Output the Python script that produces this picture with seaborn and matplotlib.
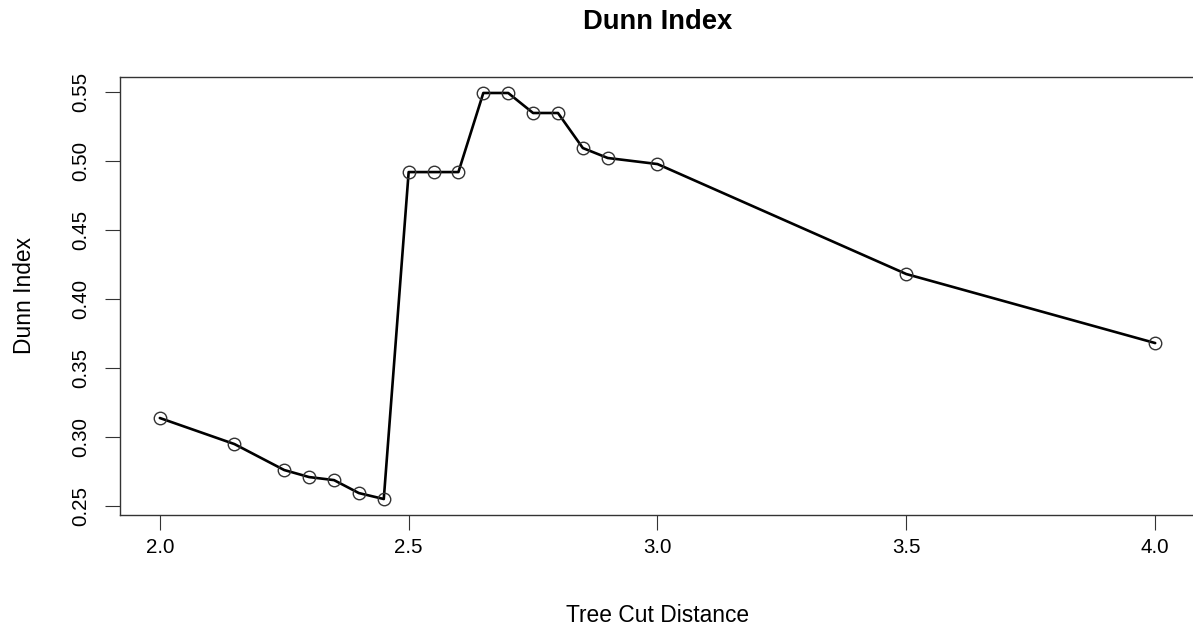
import matplotlib
matplotlib.use("Agg")
import matplotlib.pyplot as plt
import seaborn as sns
import pandas as pd

cut_distance = [2.0, 2.15, 2.25, 2.3, 2.35, 2.4, 2.45, 2.5, 2.55, 2.6, 2.65, 2.7,
                2.75, 2.8, 2.85, 2.9, 3.0, 3.5, 4.0]
dunn_index = [0.3138, 0.2949, 0.2761, 0.2710, 0.2688, 0.2594, 0.2551, 0.4920,
              0.4920, 0.4920, 0.5493, 0.5493, 0.5348, 0.5348, 0.5094, 0.5022,
              0.4978, 0.4181, 0.3681]
x_ticks = [2.0, 2.5, 3.0, 3.5, 4.0]
y_ticks = [0.25, 0.30, 0.35, 0.40, 0.45, 0.50, 0.55]

sns.set_theme(style="white")
plt.rcParams['font.family'] = ['Liberation Sans', 'DejaVu Sans']
plt.rcParams['text.color'] = 'black'
plt.rcParams['axes.labelcolor'] = 'black'

df = pd.DataFrame({"Tree Cut Distance": cut_distance, "Dunn Index": dunn_index})

W, H = 1193, 629
fig = plt.figure(figsize=(W / 100, H / 100), dpi=100)
left, right, top, bottom = 120, 1195, 76.7, 515.3
ax = fig.add_axes([left / W, 1 - bottom / H, (right - left) / W, (bottom - top) / H])

sns.lineplot(data=df, x="Tree Cut Distance", y="Dunn Index", ax=ax, color="black",
             linewidth=1.9, marker="o", markersize=9, markerfacecolor="none",
             markeredgecolor="#333333", markeredgewidth=1.0)

ax.set_xlim(1.92, 4.08)
ax.set_ylim(0.2433, 0.5611)
ax.set_xticks(x_ticks)
ax.set_xticklabels([f"{v:.1f}" for v in x_ticks])
ax.set_yticks(y_ticks)
ax.set_yticklabels([f"{v:.2f}" for v in y_ticks], rotation=90, va="center")

for s in ax.spines.values():
    s.set_color("#333333")
    s.set_linewidth(1.0)

ax.tick_params(axis="both", which="both", direction="out", length=10.5, width=0.8,
               color="#333333", labelsize=14.8, labelcolor="black",
               bottom=True, left=True, top=False, right=False)
ax.tick_params(axis="x", pad=6)
ax.tick_params(axis="y", pad=11)

ax.set_xlabel("Tree Cut Distance", fontsize=16.4, labelpad=34, color="black")
ax.set_ylabel("Dunn Index", fontsize=16.4, labelpad=25, color="black")
fig.text((left + right) / 2 / W, 1 - 22 / H, "Dunn Index", ha="center", va="center",
         fontsize=19.7, fontweight="bold", color="black")

fig.savefig("out.png", dpi=100, facecolor="white")
